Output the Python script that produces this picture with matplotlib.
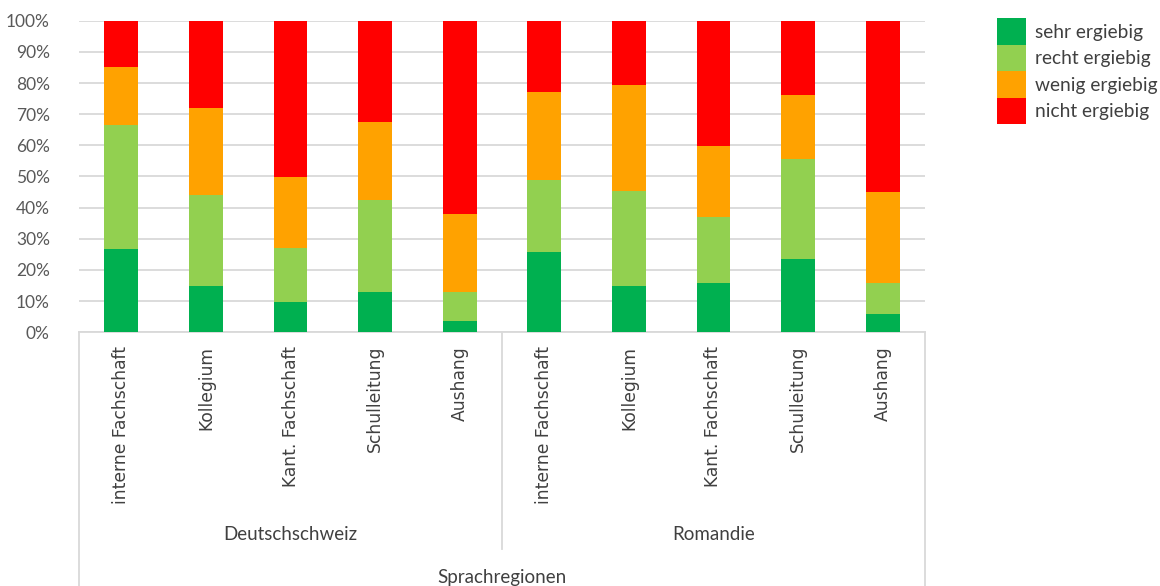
import numpy as np
import matplotlib.pyplot as plt
from matplotlib.lines import Line2D

# categories (two language regions, five sources each)
sources = ["interne Fachschaft", "Kollegium", "Kant. Fachschaft", "Schulleitung", "Aushang"]
regions = ["Deutschschweiz", "Romandie"]
outer_label = "Sprachregionen"

# shares in percent
sehr = [26.6, 15.0, 9.8, 12.8, 3.7, 25.9, 14.7, 15.7, 23.6, 6.0]
recht = [39.8, 29.1, 17.2, 29.6, 9.1, 23.0, 30.6, 21.2, 31.9, 9.7]
wenig = [18.6, 27.8, 22.9, 25.1, 25.2, 28.1, 34.0, 23.0, 20.6, 29.2]
nicht = [15.0, 28.1, 50.1, 32.5, 62.0, 23.0, 20.7, 40.1, 23.9, 55.1]

series = ["sehr ergiebig", "recht ergiebig", "wenig ergiebig", "nicht ergiebig"]
colors = ["#00B050", "#92D050", "#FFA200", "#FF0000"]

W, H = 1160, 586
fig = plt.figure(figsize=(W / 100, H / 100), dpi=100)
x0, x1, ytop, ybot = 79, 925, 20.7, 332.3
ax = fig.add_axes([x0 / W, (H - ybot) / H, (x1 - x0) / W, (ybot - ytop) / H])

labels = sources * len(regions)
x = np.arange(len(labels))
bottom = np.zeros(len(labels))
for name, vals, c in zip(series, [sehr, recht, wenig, nicht], colors):
    ax.bar(x, vals, 0.4, bottom=bottom, color=c, label=name, zorder=3)
    bottom += np.array(vals)

ax.set_xlim(-0.5, len(labels) - 0.5)
ax.set_ylim(0, 100)
ax.set_yticks(np.arange(0, 101, 10))
ax.set_yticklabels([f"{v}%" for v in range(0, 101, 10)], fontsize=12.5,
                   color="#595959", family="Lato")
ax.tick_params(axis="y", length=0, pad=21)
ax.set_xticks([])
ax.grid(axis="y", color="#d9d9d9", lw=1.3, zorder=0)
for s in ["left", "right", "top"]:
    ax.spines[s].set_visible(False)
ax.spines["bottom"].set_color("#d9d9d9")
ax.spines["bottom"].set_linewidth(1.3)

# multi-level category axis, drawn in pixel positions below the plot
def ay(py):
    return (ybot - py) / (ybot - ytop)

tr = ax.get_xaxis_transform()
for i, lab in enumerate(labels):
    ax.text(i, ay(346), lab, transform=tr, rotation=90, ha="center", va="top",
            fontsize=12.3, color="#404040", family="DejaVu Sans", clip_on=False)

n = len(sources)
for k, reg in enumerate(regions):
    ax.text(k * n + (n - 1) / 2, ay(534), reg, transform=tr, ha="center", va="center",
            fontsize=13.5, color="#404040", family="Lato", clip_on=False)
ax.text((len(labels) - 1) / 2, ay(577), outer_label, transform=tr, ha="center",
        va="center", fontsize=13.5, color="#404040", family="Lato", clip_on=False)

lc = "#d9d9d9"
for xv, yend in [(-0.5, H), (n - 0.5, 549), (len(labels) - 0.5, H)]:
    ax.add_line(Line2D([xv, xv], [0, ay(yend)], transform=tr, color=lc, lw=1.3,
                       clip_on=False))

leg = fig.legend(loc="upper left", bbox_to_anchor=(997 / W, 1 - 18 / H), frameon=False,
                 prop={"family": "Lato", "size": 13.8}, handlelength=1.51, handleheight=1.76,
                 handletextpad=0.45, labelspacing=0.0, borderaxespad=0, borderpad=0)
for t in leg.get_texts():
    t.set_color("#404040")

fig.savefig("out.png", dpi=100)
